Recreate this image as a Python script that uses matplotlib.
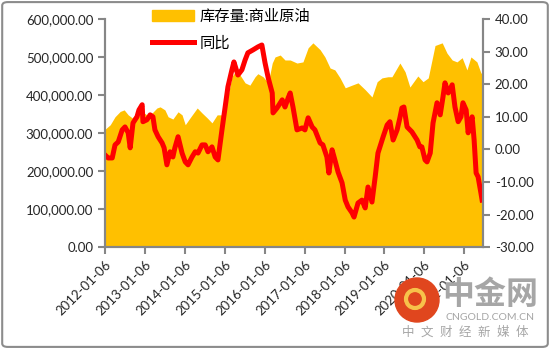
import numpy as np
import pandas as pd
import matplotlib
matplotlib.use("Agg")
import matplotlib.pyplot as plt
from matplotlib.patches import FancyBboxPatch, Circle, Patch
from matplotlib.lines import Line2D
from matplotlib.ticker import FuncFormatter, MultipleLocator

plt.rcParams['font.family'] = ['Lato', 'Noto Sans CJK SC', 'DejaVu Sans']

# years since 2012-01-06
area_t = [0.00, 0.03, 0.13, 0.25, 0.38, 0.48, 0.58, 0.68, 0.80, 0.93, 1.05, 1.18, 1.30, 1.38,
          1.50, 1.58, 1.70, 1.83, 1.93, 2.01, 2.13, 2.31, 2.43, 2.56, 2.68, 2.81, 2.93, 3.06,
          3.18, 3.26, 3.38, 3.51, 3.63, 3.76, 3.83, 3.96, 4.09, 4.19, 4.26, 4.39, 4.51, 4.64,
          4.81, 4.96, 5.09, 5.21, 5.39, 5.51, 5.64, 5.76, 5.89, 6.02, 6.19, 6.34, 6.52, 6.69,
          6.82, 6.94, 7.09, 7.19, 7.39, 7.52, 7.64, 7.77, 7.84, 7.97, 8.10, 8.27, 8.45, 8.57,
          8.70, 8.82, 8.95, 9.07, 9.17, 9.32, 9.42, 9.47]
stock = [310000, 313000, 322000, 343000, 357000, 361000, 348000, 340000, 353000, 356000,
         348000, 353000, 366000, 369000, 361000, 343000, 337000, 356000, 348000, 322000,
         340000, 366000, 353000, 340000, 327000, 348000, 348000, 387000, 448000, 461000,
         453000, 432000, 426000, 448000, 456000, 448000, 432000, 484000, 500000, 505000,
         492000, 492000, 484000, 487000, 524000, 537000, 519000, 500000, 471000, 466000,
         445000, 419000, 426000, 432000, 414000, 395000, 435000, 445000, 448000, 448000,
         484000, 461000, 421000, 440000, 450000, 435000, 445000, 530000, 537000, 510000,
         492000, 487000, 498000, 466000, 500000, 487000, 458000, 455000]

yoy_t = [0.00, 0.08, 0.18, 0.25, 0.33, 0.43, 0.50, 0.58, 0.63, 0.70, 0.80, 0.85, 0.93, 0.95,
         1.05, 1.13, 1.20, 1.25, 1.33, 1.43, 1.48, 1.55, 1.63, 1.70, 1.75, 1.83, 1.93, 2.01,
         2.08, 2.18, 2.26, 2.33, 2.43, 2.51, 2.58, 2.68, 2.76, 2.83, 2.93, 3.01, 3.08, 3.18,
         3.23, 3.33, 3.43, 3.51, 3.58, 3.71, 3.83, 3.93, 4.01, 4.09, 4.19, 4.21, 4.31, 4.44,
         4.51, 4.59, 4.64, 4.71, 4.81, 4.94, 5.01, 5.09, 5.19, 5.26, 5.39, 5.46, 5.56, 5.61,
         5.69, 5.76, 5.84, 5.94, 6.02, 6.09, 6.19, 6.24, 6.34, 6.44, 6.52, 6.59, 6.69, 6.77,
         6.84, 6.97, 7.07, 7.14, 7.22, 7.32, 7.39, 7.44, 7.49, 7.57, 7.69, 7.82, 7.89, 7.94,
         8.02, 8.07, 8.15, 8.22, 8.32, 8.40, 8.47, 8.52, 8.60, 8.70, 8.77, 8.85, 8.92, 8.97,
         9.05, 9.10, 9.15, 9.20, 9.25, 9.30, 9.35, 9.42, 9.45]
yoy = [-1.7, -2.6, -2.6, 1.4, 2.3, 6.0, 6.9, 5.1, 0.5, 8.1, 10.0, 12.1, 13.7, 8.5,
       9.1, 10.6, 10.0, 6.0, 3.9, 2.0, 0.5, -4.7, -0.7, -2.3, 0.5, 3.9, -1.1, -3.8,
       -4.7, -2.3, -0.7, -1.1, 1.4, 1.4, -0.7, 0.8, -2.3, -3.2, 6.0, 13.0, 19.2, 24.4,
       26.8, 22.8, 24.4, 27.4, 29.6, 30.5, 31.4, 32.0, 26.5, 21.9, 17.3, 11.2, 12.7, 15.2,
       13.0, 15.8, 17.3, 13.0, 6.0, 6.6, 6.0, 9.7, 6.9, 6.0, 2.0, 1.4, -2.3, -7.2,
       -0.1, -3.2, -6.9, -10.2, -15.5, -17.6, -19.4, -20.7, -16.4, -15.5, -17.9, -11.5, -16.1, -8.4,
       -1.1, 3.9, 7.5, 8.5, 2.9, 6.0, 9.7, 12.7, 13.0, 6.9, 5.4, 2.9, 0.8, 0.8,
       -3.2, -3.8, -1.1, 8.1, 14.3, 10.6, 16.1, 20.4, 17.3, 19.8, 13.0, 8.5, 10.0, 14.3,
       12.1, 5.1, 8.1, 10.0, 2.9, -7.2, -8.4, -13.3, -15.5]

years = list(range(2012, 2022))
start = pd.Timestamp('2012-01-06')

def to_dates(t):
    return start + pd.to_timedelta(np.array(t) * 365.25, unit='D')

fig = plt.figure(figsize=(5.5, 3.49), dpi=100)
ax = fig.add_axes([0.191, 0.291, 0.687, 0.655])
ax2 = ax.twinx()

ax.fill_between(to_dates(area_t), stock, 0, color='#FFC000', lw=0)
ax2.plot(to_dates(yoy_t), yoy, color='#FF0000', lw=3.6, solid_joinstyle='round')

ax.set_xlim(start, to_dates([9.47])[0])
ax.set_ylim(0, 600000)
ax2.set_ylim(-30, 40)
ax.yaxis.set_major_locator(MultipleLocator(100000))
ax2.yaxis.set_major_locator(MultipleLocator(10))
ax.yaxis.set_major_formatter(FuncFormatter(lambda v, p: f'{v:,.2f}'))
ax2.yaxis.set_major_formatter(FuncFormatter(lambda v, p: f'{v:.2f}'))

ax.set_xticks([pd.Timestamp(f'{y}-01-06') for y in years])
ax.set_xticklabels([f'{y}-01-06' for y in years], rotation=45, ha='right',
                   rotation_mode='anchor')

gray = '#868686'
for a in (ax, ax2):
    a.spines['top'].set_visible(False)
    for s in ('left', 'right', 'bottom'):
        a.spines[s].set_color(gray)
        a.spines[s].set_linewidth(1.5)
    a.tick_params(colors=gray, labelcolor='#262626', labelsize=9.5, length=5, width=1.5)
ax.tick_params(axis='x', pad=3)

handles = [Patch(color='#FFC000'), Line2D([], [], color='#FF0000', lw=3.6)]
fig.legend(handles, ['库存量:商业原油', '同比'], loc='upper left',
           bbox_to_anchor=(0.252, 1.012), frameon=False, fontsize=11,
           handlelength=2.7, handleheight=0.8, labelspacing=0.85, handletextpad=0.4)

# watermark
fig.add_artist(Circle((4.17, 0.49), 0.22, transform=fig.dpi_scale_trans,
                      color='#E0461E', zorder=10))
fig.add_artist(Circle((4.15, 0.50), 0.09, transform=fig.dpi_scale_trans,
                      fill=False, ec='#F7C24A', lw=3, zorder=11))
fig.text(490 / 550, 1 - 294 / 349, '中金网', fontsize=23, color='#A6A6A6',
         fontweight='bold', ha='center', va='center', zorder=11)
fig.text(490 / 550, 1 - 317 / 349, 'CNGOLD.COM.CN', fontsize=7.5, color='#A6A6A6',
         ha='center', va='center', zorder=11)
fig.text(465 / 550, 1 - 332 / 349, '中  文  财  经  新  媒  体', fontsize=9, color='#A6A6A6',
         ha='center', va='center', zorder=11)

fig.add_artist(FancyBboxPatch((0.004, 0.006), 0.992, 0.988, boxstyle='round,pad=0,rounding_size=0.01',
                              transform=fig.transFigure, fill=False, ec='#8C8C8C', lw=1.5))

fig.savefig('out.png', dpi=100)
